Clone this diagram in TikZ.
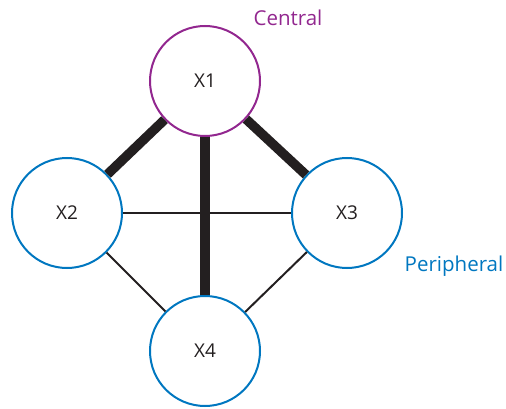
\documentclass[tikz,border=0pt]{standalone}
\usepackage{fontspec}
\setmainfont{Open Sans}
\definecolor{cpurple}{RGB}{146,39,143}
\definecolor{cblue}{RGB}{0,119,192}
\definecolor{cblack}{RGB}{35,31,32}
\begin{document}
\begin{tikzpicture}[x=1pt,y=-1pt,
  vert/.style={circle,draw=cblue,line width=2pt,minimum size=110pt,inner sep=0pt,font=\fontsize{19}{21}\selectfont,text=cblack},
  central/.style={vert,draw=cpurple},
  strong/.style={draw=cblack,line width=9.5pt},
  weak/.style={draw=cblack,line width=2pt},
  lab/.style={font=\fontsize{20.5}{22}\selectfont,inner sep=0pt}]
\useasboundingbox (0,0) rectangle (506,409);
\node[central] (x1) at (205,81) {X1};
\node[vert] (x2) at (67,213) {X2};
\node[vert] (x3) at (347,213) {X3};
\node[vert] (x4) at (205,351) {X4};
\draw[strong] (x1) -- (x2);
\draw[strong] (x1) -- (x3);
\draw[strong] (x1) -- (x4);
\draw[weak] (x2) -- (x3);
\draw[weak] (x2) -- (x4);
\draw[weak] (x3) -- (x4);
\node[lab,text=cpurple] (c) at (288,18) {Central};
\node[lab,text=cblue] (p) at (454,266) {Peripheral};
\end{tikzpicture}
\end{document}
